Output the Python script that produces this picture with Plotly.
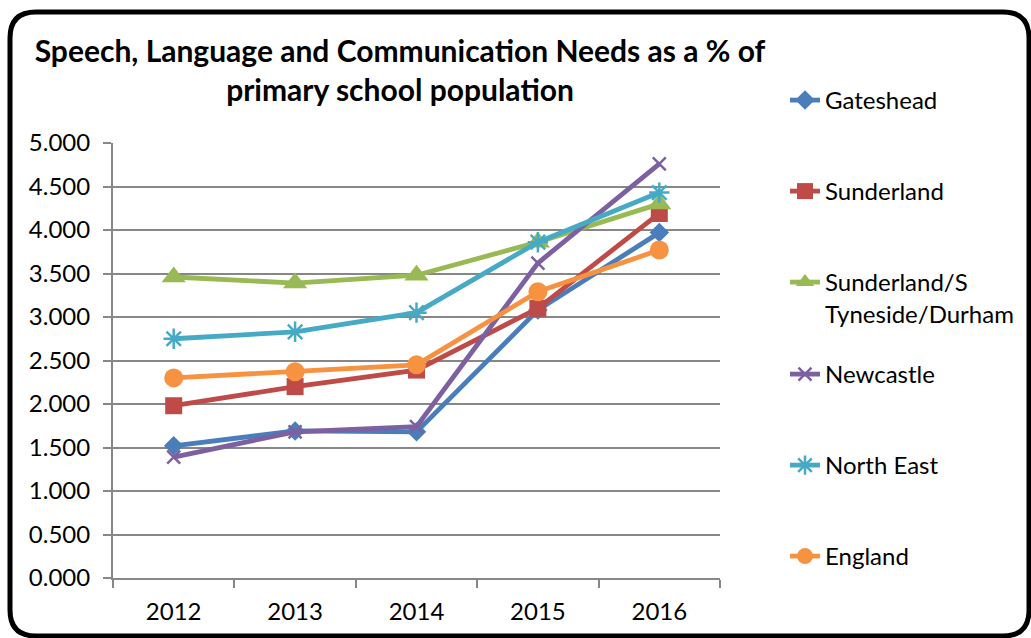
import plotly.graph_objects as go

# Data: SLCN as % of primary school population
years = ["2012", "2013", "2014", "2015", "2016"]
gateshead = [1.52, 1.69, 1.68, 3.08, 3.97]
sunderland = [1.98, 2.20, 2.39, 3.10, 4.19]
sunderland_std = [3.46, 3.39, 3.48, 3.86, 4.30]
newcastle = [1.39, 1.68, 1.74, 3.62, 4.76]
north_east = [2.75, 2.83, 3.05, 3.86, 4.43]
england = [2.30, 2.37, 2.45, 3.29, 3.77]

series_names = ["Gateshead", "Sunderland", "Sunderland/S<br>Tyneside/Durham",
                "Newcastle", "North East", "England"]
series_values = [gateshead, sunderland, sunderland_std, newcastle, north_east, england]
colors = ["#4A7EBB", "#BE4B48", "#98B954", "#7D60A0", "#46AAC5", "#F69240"]
symbols = ["diamond", "square", "triangle-up", "x-thin", "asterisk", "circle"]
sizes = [15, 17, 21, 13, 17, 19]
open_marker = [False, False, False, True, True, False]

W, H = 1031, 638
L, R, T, B = 113, 720, 143, 578  # plot-area edges in pixels


def px(x):
    return (x - L) / (R - L)


def py(y):
    return (B - y) / (B - T)


FONT = "Lato, Carlito, Calibri, sans-serif"

fig = go.Figure()

legend_centers = [100, 191, 282, 374, 465, 556]
legend_names = ["legend", "legend2", "legend3", "legend4", "legend5", "legend6"]

for i, (name, vals) in enumerate(zip(series_names, series_values)):
    if open_marker[i]:
        marker = dict(symbol=symbols[i], size=sizes[i], color=colors[i],
                      line=dict(color=colors[i], width=2.5))
    else:
        marker = dict(symbol=symbols[i], size=sizes[i], color=colors[i],
                      line=dict(width=0))
    fig.add_trace(go.Scatter(
        x=years, y=vals, name=name, mode="lines+markers",
        line=dict(color=colors[i], width=4.8),
        marker=marker, legend=legend_names[i],
    ))

legend_layout = {}
for i, ln in enumerate(legend_names):
    legend_layout[ln] = dict(
        x=px(785), y=py(legend_centers[i] - 22), xanchor="left", yanchor="top",
        font=dict(family=FONT, size=24, color="#000000"),
        bgcolor="rgba(0,0,0,0)", borderwidth=0, valign="top",
        itemwidth=30,
    )

# Rounded outer frame
x0, y0, x1, y1, r = 10, 12, 1029, 636, 26
path = (
    f"M {px(x0 + r)} {py(y0)} L {px(x1 - r)} {py(y0)} "
    f"Q {px(x1)} {py(y0)} {px(x1)} {py(y0 + r)} "
    f"L {px(x1)} {py(y1 - r)} Q {px(x1)} {py(y1)} {px(x1 - r)} {py(y1)} "
    f"L {px(x0 + r)} {py(y1)} Q {px(x0)} {py(y1)} {px(x0)} {py(y1 - r)} "
    f"L {px(x0)} {py(y0 + r)} Q {px(x0)} {py(y0)} {px(x0 + r)} {py(y0)} Z"
)

fig.update_layout(
    width=W, height=H,
    margin=dict(l=L, r=W - R, t=T, b=H - B, autoexpand=False),
    paper_bgcolor="white", plot_bgcolor="white",
    showlegend=True,
    title=dict(
        text="<b>Speech, Language and Communication Needs as a % of<br>primary school population</b>",
        x=400 / W, xref="container", xanchor="center",
        y=1 - 62 / H, yref="container", yanchor="middle",
        font=dict(family=FONT, size=30, color="#000000"),
    ),
    shapes=[dict(type="path", path=path, xref="paper", yref="paper",
                 line=dict(color="#000000", width=5), layer="above")],
    **legend_layout,
)

fig.update_xaxes(
    type="category", range=[-0.5, 4.5],
    showline=True, linecolor="#878787", linewidth=2,
    ticks="outside", tickson="boundaries", ticklen=8, tickwidth=2, tickcolor="#878787",
    ticklabelstandoff=11,
    showgrid=False, zeroline=False,
    tickfont=dict(family=FONT, size=24, color="#000000"),
)
fig.update_yaxes(
    range=[0, 5], dtick=0.5, tickformat=".3f",
    showline=True, linecolor="#878787", linewidth=2,
    ticks="outside", ticklen=8, tickwidth=2, tickcolor="#878787",
    ticklabelstandoff=8,
    showgrid=True, gridcolor="#878787", gridwidth=2, zeroline=False,
    tickfont=dict(family=FONT, size=24, color="#000000"),
)

fig.write_html("out.html")
